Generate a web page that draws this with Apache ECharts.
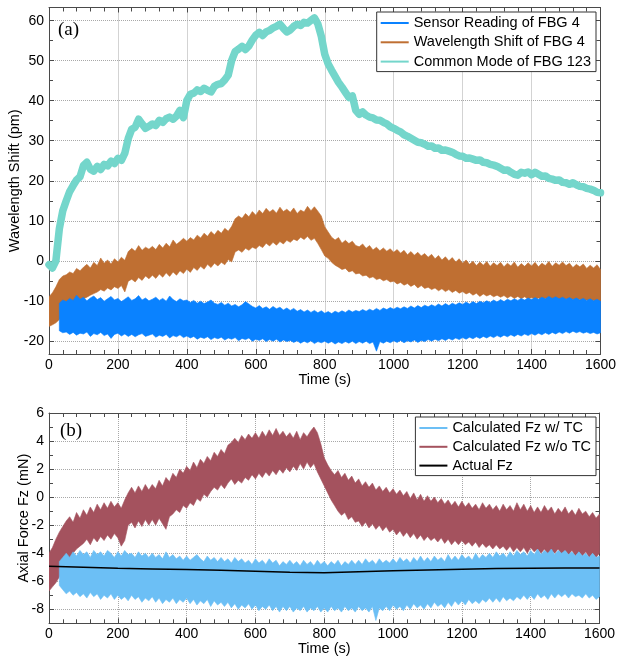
<!DOCTYPE html>
<html><head><meta charset="utf-8">
<script src="https://cdn.jsdelivr.net/npm/echarts@6/dist/echarts.min.js"></script>
<style>html,body{margin:0;padding:0;background:#fff}#c{width:624px;height:666px}</style>
</head><body><div id="c"></div>
<script>
// ---------- data ----------
const times = [
0,10,20,30,40,50,60,70,80,90,
100,110,120,130,140,150,160,170,180,190,
200,210,220,230,240,250,260,270,280,290,
300,310,320,330,340,350,360,370,380,390,
400,410,420,430,440,450,460,470,480,490,
500,510,520,530,540,550,560,570,580,590,
600,610,620,630,640,650,660,670,680,690,
700,710,720,730,740,750,760,770,780,790,
800,810,820,830,840,850,860,870,880,890,
900,910,920,930,940,950,960,970,980,990,
1000,1010,1020,1030,1040,1050,1060,1070,1080,1090,
1100,1110,1120,1130,1140,1150,1160,1170,1180,1190,
1200,1210,1220,1230,1240,1250,1260,1270,1280,1290,
1300,1310,1320,1330,1340,1350,1360,1370,1380,1390,
1400,1410,1420,1430,1440,1450,1460,1470,1480,1490,
1500,1510,1520,1530,1540,1550,1560,1570,1580,1590,
1600];

// (a) Sensor Reading of FBG 4 : upper / lower envelope of the noise band (pm)
const sensorTop = [
null,null,null,-10.6,-9.8,-10.2,-9.4,-9.9,-8.6,-9.6,
-9.1,-10,-9.3,-8.8,-9.7,-9.2,-10.1,-9.5,-8.9,-9.8,
-9.4,-10.2,-9.6,-9,-9.9,-9.5,-8.7,-9.8,-9.3,-10,
-9.6,-9.1,-9.9,-9.4,-10.1,-8.8,-9.7,-10.2,-9.5,-10,
-9.8,-10.4,-9.9,-10.6,-10.1,-10.7,-10.3,-9.8,-10.6,-10.9,
-10.4,-11.1,-10.6,-11.3,-10.9,-11.5,-11,-10.2,-10.8,-11.4,
-11.8,-11.2,-11.9,-11.5,-12.1,-11.4,-12,-11.6,-12.3,-11.8,
-12.4,-11.9,-12.6,-12.2,-12.8,-12.3,-12.9,-12.4,-13,-12.5,
-13.1,-12.7,-13.2,-12.6,-13,-12.5,-12.9,-12.3,-12.8,-12.4,
-12.7,-12.2,-12.6,-12.1,-12.5,-11.9,-12.4,-11.8,-12.2,-11.7,
-12.1,-11.6,-12,-11.5,-11.9,-11.3,-11.8,-11.2,-11.7,-11.1,
-11.5,-11,-11.4,-10.8,-11.3,-10.7,-11.2,-10.6,-11,-10.5,
-10.9,-10.3,-10.8,-10.2,-10.7,-10.1,-10.5,-10,-10.4,-9.8,
-10.3,-9.7,-10.2,-9.6,-10,-9.5,-9.9,-9.4,-9.8,-9.3,
-9.7,-9.2,-9.6,-9.1,-9.5,-8.9,-9.4,-9,-9.5,-9.1,
-9.6,-9.2,-9.7,-9.3,-9.8,-9.4,-9.9,-9.5,-10,-9.6,
-10.1];
const sensorBottom = [
null,null,null,-17.5,-18,-17.8,-18.4,-17.9,-18.6,-18.1,
-18.3,-17.8,-18.9,-18.2,-18.5,-17.9,-18.7,-18.3,-19.4,-18.4,
-18.1,-18.8,-18.3,-18.9,-18.4,-19,-18.5,-18.2,-18.9,-18.6,
-18.3,-19.1,-18.6,-18.9,-18.4,-19.3,-18.7,-19,-18.5,-19.2,
-18.8,-19.3,-18.9,-19.6,-19.1,-19.4,-19,-19.7,-19.2,-19.5,
-19.1,-19.8,-19.3,-19.6,-19.2,-20,-19.4,-19.7,-19.3,-20.1,
-19.6,-19.9,-19.5,-20.2,-19.7,-20.1,-19.6,-20.3,-19.8,-20.2,
-19.9,-20.4,-20,-20.6,-20.1,-20.5,-20,-20.7,-20.2,-20.5,
-20.1,-20.6,-20.2,-20.8,-20.3,-20.7,-20.2,-20.6,-20.1,-20.7,
-20.2,-20.6,-20.1,-20.7,-20.3,-22.6,-20.2,-20.6,-20.1,-20.5,
-20,-20.4,-19.9,-20.5,-20,-20.3,-19.8,-20.4,-19.9,-20.2,
-19.7,-20.1,-19.6,-20,-19.5,-19.9,-19.4,-19.8,-19.3,-19.7,
-19.2,-19.6,-19.1,-19.5,-19,-19.4,-18.9,-19.3,-18.8,-19.2,
-18.7,-19.1,-18.6,-19,-18.5,-18.9,-18.4,-18.8,-18.3,-18.7,
-18.2,-18.6,-18.1,-18.5,-18,-18.4,-17.9,-18.3,-17.8,-18.2,
-17.7,-18.1,-17.6,-18,-17.7,-18.1,-17.8,-18.2,-17.9,-18.3,
-18];

// (a) Wavelength Shift of FBG 4
const shiftTop = [
-9,-8,-6.5,-4.7,-3.8,-3.5,-2.8,-3.2,-1.9,-2.5,
-1.6,-0.9,-1.8,-0.4,-1.2,0.7,-0.6,0.2,-0.8,0.5,
-0.3,0.9,0.1,2.3,3.1,2.4,3.8,2.6,3.4,2.9,
3.6,2.8,4.1,3.2,4.4,3.5,5.2,4.1,4.8,5.6,
4.9,5.8,5.2,6.4,5.7,6.9,6.1,7.3,6.5,7.6,
6.9,8.1,7.4,8.6,10.5,11.2,10.6,11.8,11,12.3,
11.4,12.7,11.8,13.1,12.2,12.8,11.9,13.4,12.3,12.9,
12.1,13.2,11.8,12.7,12.2,13.6,12.5,13.5,12.4,11.2,
8.5,7.2,5.9,5.2,5.8,4.4,5.1,4.3,4.9,3.8,
3.5,4.2,3.1,3.8,2.7,3.4,2.5,3.2,2.4,3,
2.1,2.8,1.9,2.6,1.5,2.3,1.4,2.1,1.2,1.8,
0.9,1.6,0.5,1.3,0.2,1,0,0.8,-0.3,0.5,
-0.6,0.2,-0.9,-0.1,-1.2,-0.3,-1.1,-0.2,-1.4,-0.5,
-1.2,-0.4,-1.5,-0.6,-1.3,-0.3,-1.6,-0.7,-1.4,-0.5,
-1.3,-0.4,-1.5,-0.6,-1.2,-0.2,-1.4,-0.5,-1.1,-0.3,
-1.2,-0.6,-1.7,-0.9,-1.5,-0.8,-1.9,-1.1,-1.8,-1,
-2.2];
const shiftBottom = [
-16.4,-16,-15.5,-14.7,-13.5,-12.5,-11.8,-11.2,-10.8,-10.1,
-9.5,-9.1,-8.6,-8.2,-7.8,-7.2,-7.6,-6.8,-7.3,-6.5,
-6.9,-6.2,-7.8,-5.1,-4.6,-5.3,-4.2,-4.9,-3.8,-4.5,
-3.6,-4.4,-3.3,-4.1,-3,-3.9,-2.8,-3.6,-2.5,-3.2,
-2.1,-2.9,-1.7,-2.4,-1.4,-2.1,-0.9,-1.7,-0.6,-1.3,
-0.4,-1,0.3,-0.3,2.2,2.7,2.1,3.1,2.6,3.4,
3,3.8,3.3,4.4,3.7,4.6,3.9,4.8,4.2,5.1,
4.6,5.4,5,5.9,5.3,6.1,5.1,5.6,4.3,2.8,
1.2,0.6,-0.4,-1.1,-1.6,-2.2,-1.9,-2.8,-2.5,-3.3,
-3.1,-3.8,-3.6,-4.3,-4,-4.7,-4.4,-5,-4.7,-5.3,
-5.1,-5.8,-5.4,-6.1,-5.7,-6.4,-5.9,-6.8,-6.2,-6.9,
-6.6,-7.2,-6.8,-7.5,-7,-7.7,-7.2,-7.9,-7.4,-8.1,
-7.7,-8.3,-7.9,-8.6,-8.1,-8.9,-8.3,-8.8,-8.4,-9,
-8.6,-9.1,-8.7,-9.3,-8.8,-9.4,-8.9,-9.5,-9,-9.6,
-9.2,-9.7,-9.3,-9.8,-9.4,-9.9,-9.5,-10,-9.6,-10.1,
-9.5,-10,-9.6,-10.1,-9.7,-10.2,-9.8,-10.3,-9.9,-10.4,
-10.1];

// (a) Common Mode of FBG 123 (centre of the thin band)
const commonMode = [
-1,-1.8,0,8,12.5,15,17.3,18.8,20.2,21,
23.8,24.6,22.9,22.4,23.6,22.8,24.1,23.7,24.9,24.3,
25.6,25.1,26.9,30.6,32.9,33.4,35.4,34.2,33.1,33.6,
34.2,33.8,35.1,34.6,35.5,35.9,35.4,36.2,37.6,35.8,
40.1,41.6,41.9,42.7,42.3,43.1,42.6,42.2,43.6,44.1,
44.3,45.2,46.4,50.1,52.3,52.9,53.6,52.8,53.7,55.2,
56.4,57.1,56.3,57.2,57.6,58.2,58.6,59.1,58.1,57.2,
57.7,58.6,59.1,58.8,59.6,59.4,60.1,60.7,59.2,56.1,
51.6,49.2,47.6,46.1,44.6,43.4,42.1,40.8,41.2,37.6,
36.6,37.2,36.4,35.9,35.7,35.2,35.1,34.6,34.2,33.5,
33.1,32.6,32.2,31.5,31.1,30.6,30.1,29.6,29.5,29.1,
28.6,28.7,28.1,28.2,27.6,27.7,27.4,27.1,26.6,26.2,
26.1,25.6,25.7,25.4,25.1,25.2,24.6,24.5,24.1,23.9,
23.6,23.1,22.6,22.7,22.1,21.6,21.4,22.1,21.9,22.2,
21.5,22.1,21.6,21.1,21.2,20.6,20.4,20.1,20.2,19.6,
19.5,19.1,19.5,19,18.6,18.5,18.1,17.9,17.6,17.1,
17];

// (b) Calculated Fz w/ TC (mN)
const fzTcTop = [
null,null,null,-4.6,-4.3,-4,-4.3,-3.9,-4.2,-3.8,
-4.1,-3.9,-4.3,-3.8,-4.1,-3.9,-4.2,-3.8,-4,-4.3,
-3.9,-4.2,-3.8,-4.1,-4,-4.3,-3.9,-4.2,-4,-4.3,
-4,-4.3,-4.1,-4.4,-3.9,-4.3,-4.1,-4.4,-4.2,-4.5,
-4.2,-4.5,-4.3,-4.1,-4.4,-4.6,-4.2,-4.5,-4.3,-4.6,
-4.3,-4.6,-4.4,-4.7,-4.3,-4.6,-4.4,-4.7,-4.5,-4.8,
-4.4,-4.7,-4.5,-4.8,-4.4,-4.7,-4.5,-4.9,-4.6,-4.8,
-4.5,-4.8,-4.6,-4.9,-4.5,-4.8,-4.6,-4.9,-4.5,-4.8,
-4.6,-4.9,-4.6,-4.8,-4.5,-4.9,-4.6,-4.8,-4.5,-4.8,
-4.5,-4.8,-4.4,-4.7,-4.5,-4.8,-4.4,-4.7,-4.5,-4.7,
-4.4,-4.7,-4.3,-4.6,-4.4,-4.7,-4.3,-4.6,-4.2,-4.6,
-4.3,-4.6,-4.2,-4.5,-4.3,-4.6,-4.1,-4.5,-4.2,-4.5,
-4.1,-4.4,-4.2,-4.5,-4,-4.4,-4.1,-4.3,-4,-4.3,
-3.9,-4.2,-4,-4.3,-3.9,-4.2,-3.8,-4.1,-3.9,-4.2,
-3.8,-4.1,-3.7,-4.1,-3.8,-4,-3.7,-4.1,-3.8,-4,
-3.8,-4.1,-3.9,-4.2,-3.9,-4.2,-4,-4.3,-4,-4.3,
-4.2];
const fzTcBottom = [
null,null,null,-6.3,-6.6,-6.9,-6.7,-7,-6.8,-7.1,
-6.9,-7.2,-6.8,-7.1,-6.9,-7.3,-7,-7.2,-6.9,-7.3,
-7,-7.3,-7.1,-7.4,-7,-7.3,-7.1,-7.5,-7.2,-7.4,
-7.1,-7.5,-7.2,-7.6,-7.3,-7.5,-7.2,-7.6,-7.3,-7.5,
-7.2,-7.6,-7.3,-7.7,-7.4,-7.6,-7.3,-7.8,-7.4,-7.7,
-7.5,-7.8,-7.5,-7.9,-7.6,-8,-7.7,-7.9,-7.6,-8,
-7.7,-8.1,-7.8,-8,-7.7,-8.1,-7.8,-8.2,-7.8,-8.1,
-7.8,-8.2,-7.9,-8.1,-7.8,-8.2,-7.9,-8.1,-7.8,-8.2,
-7.9,-8.2,-7.8,-8.1,-7.9,-8.2,-7.8,-8.1,-7.9,-8.2,
-7.8,-8.1,-7.9,-8.2,-7.8,-8.8,-7.9,-8.1,-7.8,-8.1,
-7.7,-8,-7.8,-8.1,-7.7,-8,-7.6,-7.9,-7.7,-8,
-7.6,-7.9,-7.5,-7.8,-7.6,-7.9,-7.5,-7.8,-7.4,-7.7,
-7.4,-7.7,-7.3,-7.6,-7.4,-7.6,-7.3,-7.5,-7.2,-7.5,
-7.2,-7.5,-7.1,-7.4,-7.2,-7.4,-7.1,-7.3,-7,-7.3,
-7,-7.3,-6.9,-7.2,-7,-7.3,-6.9,-7.2,-6.9,-7.1,
-6.9,-7.2,-6.9,-7.1,-7,-7.2,-6.9,-7.2,-7,-7.3,
-7.1];

// (b) Calculated Fz w/o TC
const fzNoTcTop = [
-4,-3.6,-3,-2.5,-2.1,-1.7,-1.4,-1.8,-1.1,-1.5,
-0.9,-1.3,-0.7,-1.1,-0.5,-0.9,-0.4,-0.8,-0.3,-0.7,
-0.4,-0.8,-0.2,0.3,0.7,0.3,0.8,0.4,0.9,0.5,
0.9,0.6,1.2,0.8,1.4,1.1,1.7,1.4,2,1.7,
2.2,1.9,2.5,2.1,2.7,2.4,2.9,2.6,3.2,2.9,
3.4,3.1,3.7,3.9,4.2,3.9,4.4,4.1,4.5,4.2,
4.6,4.2,4.7,4.3,4.8,4.4,4.9,4.4,4.7,4.3,
4.6,4.2,4.7,4.1,4.6,4.3,4.7,5,4.6,3.8,
2.8,2.3,1.9,1.6,1.9,1.4,1.7,1.2,1.5,1,
1.3,0.8,1.1,0.7,1,0.5,0.8,0.4,0.7,0.3,
0.6,0.2,0.5,0.1,0.4,-0.1,0.3,-0.2,0.2,-0.3,
0.1,-0.3,0,-0.4,-0.1,-0.5,-0.2,-0.6,-0.3,-0.7,
-0.3,-0.7,-0.4,-0.8,-0.5,-0.9,-0.4,-0.8,-0.5,-0.9,
-0.6,-1,-0.5,-0.9,-0.6,-1,-0.4,-0.9,-0.5,-1,
-0.6,-1.1,-0.7,-1.1,-0.6,-1,-0.7,-1.2,-0.8,-1.1,
-0.7,-1.2,-0.9,-1.3,-0.8,-1.2,-1,-1.4,-1.1,-1.5,
-1.2];
const fzNoTcBottom = [
-6.7,-6.4,-6.1,-5.7,-5.2,-4.6,-4.3,-4,-3.7,-3.5,
-3.3,-3,-3.4,-2.9,-3.2,-2.8,-3.1,-2.7,-3,-2.6,
-2.9,-3.5,-3.1,-2,-1.8,-2.2,-1.7,-2.1,-1.6,-2,
-1.6,-2,-1.5,-1.9,-2.3,-1.4,-1.2,-0.9,-1.1,-0.6,
-0.8,-0.4,-0.6,-0.1,-0.3,0.2,0,0.4,0.7,0.5,
0.9,0.6,1,1.3,0.9,1.2,1,1.4,1.2,1.6,
1.3,1.7,1.4,1.8,1.5,1.9,1.6,2,1.7,2.1,
1.8,2.2,1.9,2.4,2,2.5,2.1,2.4,1.8,1.3,
0.8,0.3,-0.2,-0.6,-1,-1.3,-1.1,-1.6,-1.4,-1.8,
-1.7,-2.1,-1.8,-2.2,-1.9,-2.3,-2,-2.4,-2.1,-2.5,
-2.3,-2.7,-2.4,-2.8,-2.5,-2.9,-2.6,-3,-2.7,-3.1,
-2.8,-3.1,-2.9,-3.2,-2.9,-3.3,-3,-3.4,-3.1,-3.4,
-3.1,-3.4,-3.2,-3.5,-3.2,-3.6,-3.3,-3.6,-3.4,-3.7,
-3.4,-3.7,-3.5,-3.8,-3.5,-3.9,-3.6,-3.9,-3.6,-4,
-3.6,-3.9,-3.7,-4,-3.7,-4.1,-3.8,-4,-3.7,-4.1,
-3.8,-4.1,-3.8,-4.2,-3.9,-4.2,-3.9,-4.3,-4,-4.3,
-4];

// (b) Actual Fz
const actualTimes = [0,100,200,300,400,500,600,700,800,900,1000,1100,1200,1300,1400,1500,1600];
const actualFz = [-4.93,-5,-5.08,-5.12,-5.17,-5.22,-5.28,-5.36,-5.4,-5.33,-5.26,-5.2,-5.15,-5.1,-5.08,-5.06,-5.05];

const namesA = ['Sensor Reading of FBG 4','Wavelength Shift of FBG 4','Common Mode of FBG 123'];
const namesB = ['Calculated Fz w/ TC','Calculated Fz w/o TC','Actual Fz'];

// ---------- chart ----------
const FONT = 'Liberation Sans, Arial, sans-serif';
const C = {
  sensor:'#0a82ff', shift:'#bf6f32', common:'#74d6cb',
  tc:'#6cbff5', notc:'#a4525e', actual:'#000000'
};
function pairs(xs, ys){ return xs.map((x,i)=>[x, ys[i]]); }
// noise band: custom series; the whole band is one polygon whose corners come from api.coord
function band(name, color, top, bot, axisIdx){
  return {
    name, type:'custom', xAxisIndex:axisIdx, yAxisIndex:axisIdx, clip:true, silent:true,
    data: times.map((t,i)=>[t, bot[i], top[i]]),
    encode:{x:0, y:[1,2]},
    itemStyle:{color},
    renderItem(params, api){
      if (params.dataIndexInside !== 0) return null;
      const n = params.dataInsideLength;
      const lower = [], upper = [];
      for (let j = 0; j < n; j++) {
        const x = api.value(0, j), b = api.value(1, j), t = api.value(2, j);
        if (b == null || t == null || isNaN(b) || isNaN(t)) continue;
        lower.push(api.coord([x, b]));
        upper.push(api.coord([x, t]));
      }
      const pts = lower.concat(upper.reverse());
      return {type:'polygon', shape:{points:pts}, style:{fill:color, stroke:color, lineWidth:0.6}};
    }
  };
}
const axisLineStyle = {color:'#4a4a4a', width:1};
function xAx(gi, bottom){
  return {
    type:'value', gridIndex:gi, position: bottom ? 'bottom':'top', min:0, max:1600, interval:200,
    name: bottom ? 'Time (s)' : '', nameLocation:'middle', nameGap:18, nameMoveOverlap:false,
    nameTextStyle:{fontFamily:FONT, fontSize:14.5, color:'#000'},
    axisLine:{show:true, onZero:false, lineStyle:axisLineStyle},
    axisTick:{show:true, inside:true, length:5, lineStyle:axisLineStyle},
    minorTick:{show:true, splitNumber:5, length:4, lineStyle:axisLineStyle},
    axisLabel:{show:bottom, margin:4, fontFamily:FONT, fontSize:14, color:'#000', formatter: v => String(v)},
    splitLine:{show:bottom, lineStyle:{type:'dotted', color:'#a8a8a8', width:1}},
    minorSplitLine:{show:false}
  };
}
function yAx(gi, left, min, max, split, step, minorSplit, name, gap){
  return {
    type:'value', gridIndex:gi, position: left ? 'left':'right', min, max, splitNumber:split,
    name: left ? name : '', nameLocation:'middle', nameGap:gap, nameMoveOverlap:false,
    nameTextStyle:{fontFamily:FONT, fontSize:14.5, color:'#000'},
    axisLine:{show:true, onZero:false, lineStyle:axisLineStyle},
    axisTick:{show:true, inside:true, length:5, lineStyle:axisLineStyle},
    minorTick:{show:true, splitNumber:minorSplit, length:4, lineStyle:axisLineStyle},
    axisLabel:{show:left, margin:5, fontFamily:FONT, fontSize:14, color:'#000',
      formatter: v => (Math.abs(Math.round(v/step)*step - v) < 1e-6) ? String(Math.round(v)) : ''},
    splitLine:{show:left, lineStyle:{type:'dotted', color:'#a8a8a8', width:1}},
    minorSplitLine:{show:false}
  };
}
const legendBase = {
  orient:'vertical', align:'left', icon:'rect', itemWidth:28, itemHeight:2,
  backgroundColor:'#fff', borderColor:'#333', borderWidth:1, selectedMode:false,
  textStyle:{fontFamily:FONT, fontSize:14.5, color:'#000', lineHeight:16}
};

const option = {
  animation:false,
  backgroundColor:'#fff',
  title:[
    {text:'(a)', left:58, top:21, padding:0, textStyle:{fontFamily:'Liberation Serif, Times New Roman, serif', fontSize:19, fontWeight:'normal', color:'#000'}},
    {text:'(b)', left:60, top:422, padding:0, textStyle:{fontFamily:'Liberation Serif, Times New Roman, serif', fontSize:19, fontWeight:'normal', color:'#000'}}
  ],
  legend:[
    Object.assign({}, legendBase, {data:namesA, right:28, top:12, itemGap:3.3, padding:[3,5,2,4]}),
    Object.assign({}, legendBase, {data:namesB, right:28, top:417, itemGap:2.8, padding:[3,5,2,4]})
  ],
  grid:[
    {left:49, right:23.5, top:7.5, height:346.5, outerBoundsMode:'none'},
    {left:49, right:24.5, top:413, height:210.3, outerBoundsMode:'none'}
  ],
  xAxis:[ xAx(0,true), xAx(0,false), xAx(1,true), xAx(1,false) ],
  yAxis:[
    yAx(0,true,-23.3,63.3,9,10,2,'Wavelength Shift (pm)',27),
    yAx(0,false,-23.3,63.3,9,10,2,'',27),
    yAx(1,true,-9,6,7,2,2,'Axial Force Fz (mN)',18),
    yAx(1,false,-9,6,7,2,2,'',18)
  ],
  series:[
    band(namesA[1], C.shift, shiftTop, shiftBottom, 0),
    band(namesA[0], C.sensor, sensorTop, sensorBottom, 0),
    {name:namesA[2], type:'line', xAxisIndex:0, yAxisIndex:0, data:pairs(times, commonMode),
     symbol:'none', lineStyle:{color:C.common, width:7.5, join:'round', cap:'round'}, itemStyle:{color:C.common}, silent:true},
    band(namesB[1], C.notc, fzNoTcTop, fzNoTcBottom, 2),
    band(namesB[0], C.tc, fzTcTop, fzTcBottom, 2),
    {name:namesB[2], type:'line', xAxisIndex:2, yAxisIndex:2, data:pairs(actualTimes, actualFz),
     symbol:'none', lineStyle:{color:C.actual, width:1.5}, itemStyle:{color:C.actual}, silent:true}
  ]
};
echarts.init(document.getElementById('c'), null, {renderer:'canvas'}).setOption(option);
</script>
</body></html>
